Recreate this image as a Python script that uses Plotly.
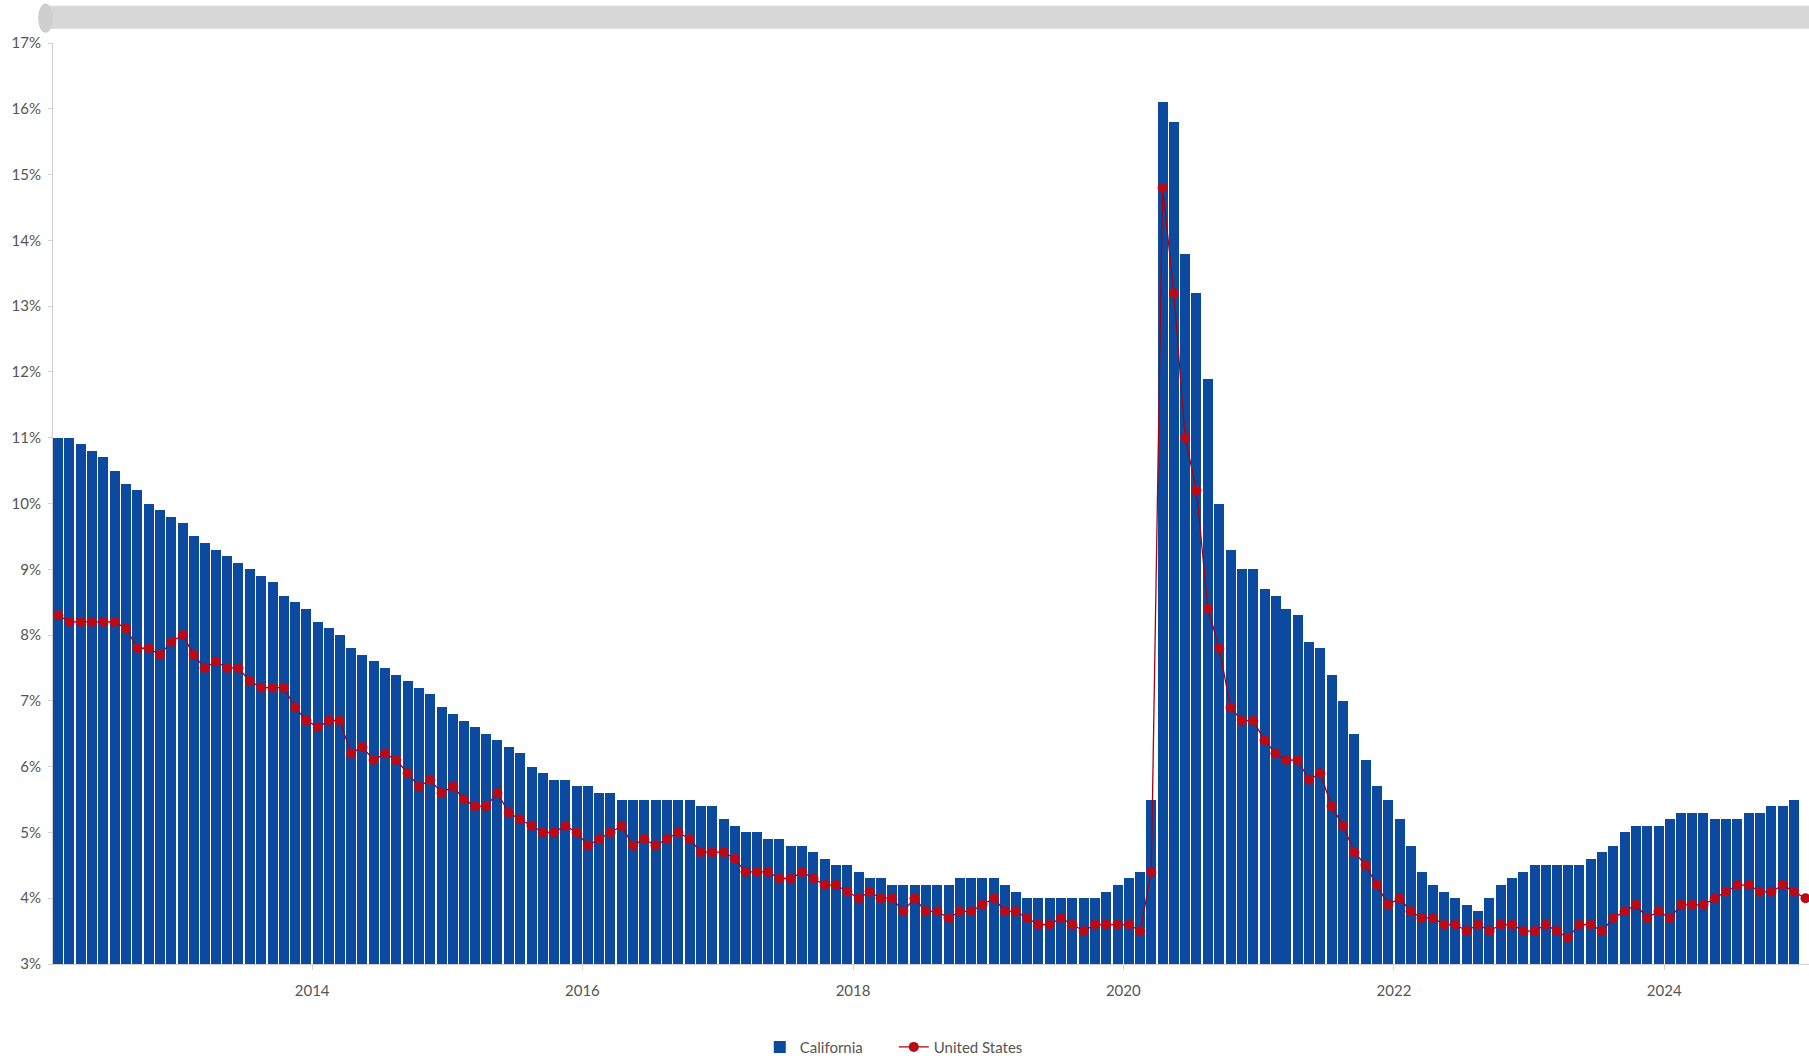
import pandas as pd
import plotly.graph_objects as go

# monthly unemployment rate, %, starting Feb 2012
california = [
    11.0, 11.0, 10.9, 10.8, 10.7, 10.5, 10.3, 10.2, 10.0, 9.9, 9.8,
    9.7, 9.5, 9.4, 9.3, 9.2, 9.1, 9.0, 8.9, 8.8, 8.6, 8.5, 8.4,
    8.2, 8.1, 8.0, 7.8, 7.7, 7.6, 7.5, 7.4, 7.3, 7.2, 7.1, 6.9,
    6.8, 6.7, 6.6, 6.5, 6.4, 6.3, 6.2, 6.0, 5.9, 5.8, 5.8, 5.7,
    5.7, 5.6, 5.6, 5.5, 5.5, 5.5, 5.5, 5.5, 5.5, 5.5, 5.4, 5.4,
    5.2, 5.1, 5.0, 5.0, 4.9, 4.9, 4.8, 4.8, 4.7, 4.6, 4.5, 4.5,
    4.4, 4.3, 4.3, 4.2, 4.2, 4.2, 4.2, 4.2, 4.2, 4.3, 4.3, 4.3,
    4.3, 4.2, 4.1, 4.0, 4.0, 4.0, 4.0, 4.0, 4.0, 4.0, 4.1, 4.2,
    4.3, 4.4, 5.5, 16.1, 15.8, 13.8, 13.2, 11.9, 10.0, 9.3, 9.0, 9.0,
    8.7, 8.6, 8.4, 8.3, 7.9, 7.8, 7.4, 7.0, 6.5, 6.1, 5.7, 5.5,
    5.2, 4.8, 4.4, 4.2, 4.1, 4.0, 3.9, 3.8, 4.0, 4.2, 4.3, 4.4,
    4.5, 4.5, 4.5, 4.5, 4.5, 4.6, 4.7, 4.8, 5.0, 5.1, 5.1, 5.1,
    5.2, 5.3, 5.3, 5.3, 5.2, 5.2, 5.2, 5.3, 5.3, 5.4, 5.4, 5.5,
]

united_states = [
    8.3, 8.2, 8.2, 8.2, 8.2, 8.2, 8.1, 7.8, 7.8, 7.7, 7.9,
    8.0, 7.7, 7.5, 7.6, 7.5, 7.5, 7.3, 7.2, 7.2, 7.2, 6.9, 6.7,
    6.6, 6.7, 6.7, 6.2, 6.3, 6.1, 6.2, 6.1, 5.9, 5.7, 5.8, 5.6,
    5.7, 5.5, 5.4, 5.4, 5.6, 5.3, 5.2, 5.1, 5.0, 5.0, 5.1, 5.0,
    4.8, 4.9, 5.0, 5.1, 4.8, 4.9, 4.8, 4.9, 5.0, 4.9, 4.7, 4.7,
    4.7, 4.6, 4.4, 4.4, 4.4, 4.3, 4.3, 4.4, 4.3, 4.2, 4.2, 4.1,
    4.0, 4.1, 4.0, 4.0, 3.8, 4.0, 3.8, 3.8, 3.7, 3.8, 3.8, 3.9,
    4.0, 3.8, 3.8, 3.7, 3.6, 3.6, 3.7, 3.6, 3.5, 3.6, 3.6, 3.6,
    3.6, 3.5, 4.4, 14.8, 13.2, 11.0, 10.2, 8.4, 7.8, 6.9, 6.7, 6.7,
    6.4, 6.2, 6.1, 6.1, 5.8, 5.9, 5.4, 5.1, 4.7, 4.5, 4.2, 3.9,
    4.0, 3.8, 3.7, 3.7, 3.6, 3.6, 3.5, 3.6, 3.5, 3.6, 3.6, 3.5,
    3.5, 3.6, 3.5, 3.4, 3.6, 3.6, 3.5, 3.7, 3.8, 3.9, 3.7, 3.8,
    3.7, 3.9, 3.9, 3.9, 4.0, 4.1, 4.2, 4.2, 4.1, 4.1, 4.2, 4.1,
    4.0,
]

months = pd.date_range("2012-02-01", periods=len(united_states), freq="MS")

BLUE = "#0C4A9F"
RED = "#BA0A18"
GREY_TXT = "#555555"
DAY_MS = 86400000

fig = go.Figure()

fig.add_trace(go.Bar(
    x=months[:len(california)],
    y=california,
    name="California",
    marker=dict(color=BLUE, line=dict(width=0)),
    width=27 * DAY_MS,
    xperiod="M1",
    xperiodalignment="middle",
))

fig.add_trace(go.Scatter(
    x=months,
    y=united_states,
    name="United States",
    mode="lines+markers",
    line=dict(color="#A80012", width=1.3),
    marker=dict(color=RED, size=10),
    xperiod="M1",
    xperiodalignment="middle",
))

# scrollbar look-alike above the plot
fig.add_shape(type="rect", xref="paper", yref="paper",
              x0=-0.006, x1=1.0, y0=1.0155, y1=1.0405,
              fillcolor="#D7D7D7", line=dict(width=0), layer="below")
fig.add_shape(type="circle", xref="paper", yref="paper",
              x0=-0.0085, x1=0.0, y0=1.011, y1=1.043,
              fillcolor="#CFCFCF", line=dict(width=0), layer="below")

fig.update_layout(
    width=1809,
    height=1062,
    paper_bgcolor="white",
    plot_bgcolor="white",
    margin=dict(l=53, r=0, t=43, b=98, autoexpand=False),
    font=dict(family="Lato, 'Open Sans', sans-serif", size=15, color=GREY_TXT),
    bargap=0,
    showlegend=True,
    legend=dict(
        orientation="h",
        xref="container", yref="container",
        x=0.42, xanchor="left",
        y=0.014, yanchor="middle",
        font=dict(size=15, color=GREY_TXT),
        itemwidth=30,
        entrywidth=89,
        entrywidthmode="pixels",
    ),
)

fig.update_xaxes(
    type="date",
    range=["2012-02-01", "2025-01-26"],
    dtick="M24",
    tick0="2014-01-01",
    tickformat="%Y",
    showgrid=False,
    showline=True,
    linecolor="#D0D0D0",
    linewidth=1,
    ticks="outside",
    ticklen=5,
    tickcolor="#D0D0D0",
    ticklabelstandoff=8,
    zeroline=False,
)

fig.update_yaxes(
    range=[3, 17],
    dtick=1,
    ticksuffix="%",
    showgrid=False,
    showline=True,
    linecolor="#D0D0D0",
    linewidth=1,
    ticks="outside",
    ticklen=4,
    tickcolor="#D0D0D0",
    ticklabelstandoff=4,
    zeroline=False,
)

# drop the default page margin so the figure fills the window exactly
fig.write_html(
    "out.html",
    config={"displayModeBar": False},
    post_script="document.body.style.margin='0';document.body.style.overflow='hidden';",
)
